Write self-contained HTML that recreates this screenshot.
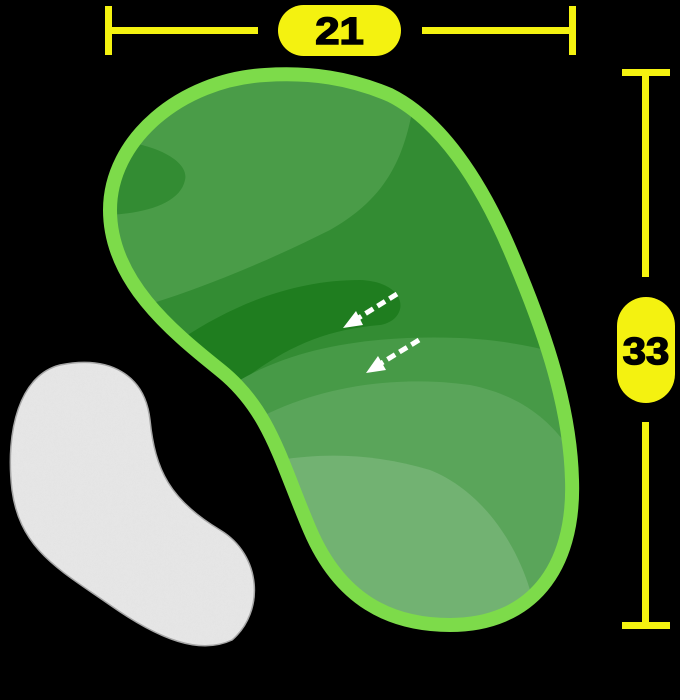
<!DOCTYPE html>
<html><head><style>
html,body{margin:0;padding:0;background:#000;width:680px;height:700px;overflow:hidden}
</style></head><body>
<svg width="680" height="700" viewBox="0 0 680 700" xmlns="http://www.w3.org/2000/svg">
<defs>
<clipPath id="g"><path id="gp" d="M265,75 C180,80 110,140 110,210 C110,280 170,330 220,370 C270,410 280,460 310,530 C340,600 390,625 450,625 C530,625 575,570 572,480 C570,400 540,320 510,250 C480,180 440,120 390,95 C350,78 310,72 265,75 Z"/></clipPath>
<filter id="n"><feTurbulence baseFrequency="0.9" numOctaves="1" result="t"/><feColorMatrix type="saturate" values="0"/><feComponentTransfer><feFuncA type="linear" slope="0.08"/></feComponentTransfer><feComposite in2="SourceGraphic" operator="in"/><feMerge><feMergeNode in="SourceGraphic"/><feMergeNode/></feMerge></filter>
</defs>
<path d="M60,365 C110,355 145,375 150,420 C155,470 170,500 220,530 C262,555 265,612 232,640 C200,655 160,640 110,605 C60,570 20,550 12,490 C5,430 20,375 60,365 Z" fill="#e6e6e6" stroke="#a8a8a8" stroke-width="1.5" filter="url(#n)"/>
<g clip-path="url(#g)">
<rect x="0" y="0" width="680" height="700" fill="#338c33"/>
<path d="M100,60 L420,60 C410,140 400,190 330,230 C270,260 200,290 130,310 L100,320 Z" fill="#4a9c48"/>
<path d="M100,140 C150,140 190,160 185,180 C180,205 140,215 100,215 Z" fill="#338c33"/>
<path d="M180,340 C240,300 300,280 360,280 C410,282 410,320 380,325 C320,330 280,350 230,390 Z" fill="#1f7d1f"/>
<path d="M240,380 C300,345 380,335 460,338 C510,340 550,350 580,360 L600,700 L240,700 Z" fill="#479a47"/>
<path d="M255,420 C320,385 400,375 470,385 C520,395 550,420 570,450 L600,700 L255,700 Z" fill="#5aa55a"/>
<path d="M280,460 C330,452 380,455 430,470 C480,490 515,540 530,590 L540,700 L280,700 Z" fill="#72b272"/>
</g>
<use href="#gp" fill="none" stroke="#7ddb4a" stroke-width="14"/>
<line x1="397" y1="294" x2="352" y2="322" stroke="#fff" stroke-width="5" stroke-dasharray="9,5"/>
<polygon points="343,328 356,311 363,325" fill="#fff"/>
<line x1="419" y1="340" x2="375" y2="367" stroke="#fff" stroke-width="5" stroke-dasharray="9,5"/>
<polygon points="366,373 378,356 386,370" fill="#fff"/>
<g fill="#f4f210">
<rect x="105" y="6" width="7" height="49"/>
<rect x="569" y="6" width="7" height="49"/>
<rect x="105" y="27" width="153" height="7"/>
<rect x="422" y="27" width="154" height="7"/>
<rect x="278" y="5" width="123" height="51" rx="25.5"/>
<rect x="622" y="69" width="48" height="7"/>
<rect x="622" y="622" width="48" height="7"/>
<rect x="642" y="69" width="7" height="208"/>
<rect x="642" y="422" width="7" height="207"/>
<rect x="617" y="297" width="58" height="106" rx="29"/>
</g>
<text transform="translate(339.5,44) scale(1.15,1)" text-anchor="middle" font-family="Liberation Sans, sans-serif" font-weight="bold" font-size="38" fill="#000" stroke="#000" stroke-width="1.5">21</text>
<text transform="translate(646,364) scale(1.1,1)" text-anchor="middle" font-family="Liberation Sans, sans-serif" font-weight="bold" font-size="38" fill="#000" stroke="#000" stroke-width="1.5">33</text>
</svg>
</body></html>
